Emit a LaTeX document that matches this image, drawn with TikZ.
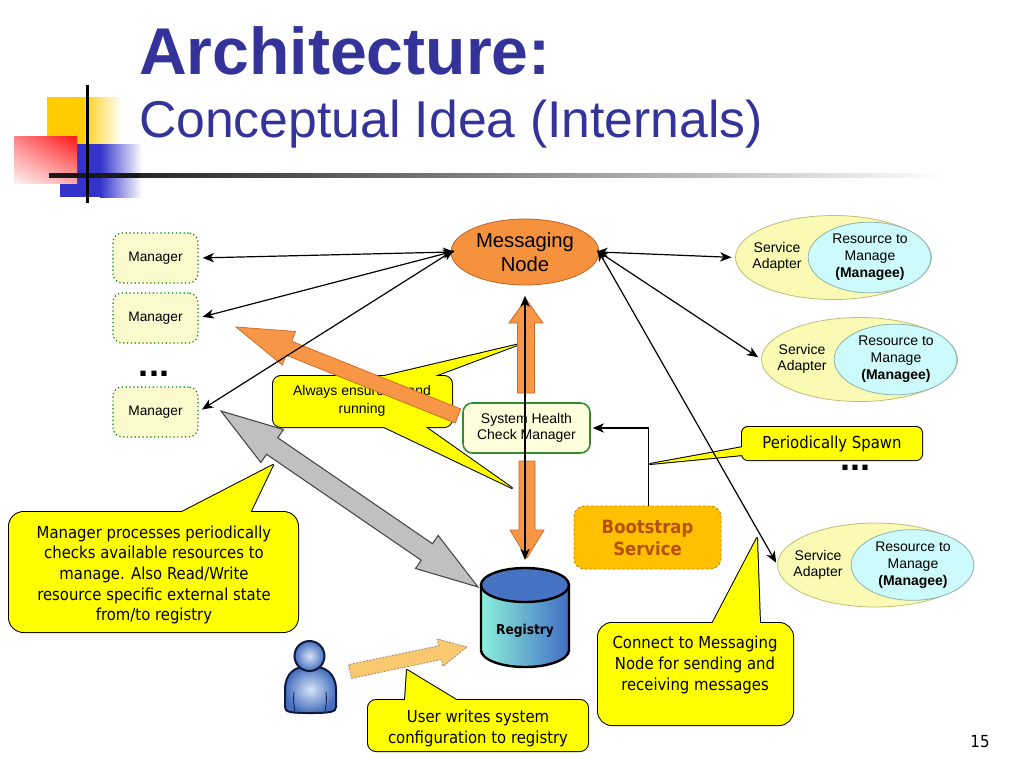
\documentclass[tikz,border=0pt]{standalone}
\usepackage{fontspec}
\setmainfont{Liberation Sans}
\newfontfamily\tah{DejaVu Sans Condensed}
\usetikzlibrary{arrows.meta,shapes.geometric,shadings}

\definecolor{titleblue}{RGB}{51,51,153}
\definecolor{decoyellow}{RGB}{255,204,0}
\definecolor{decoblue}{RGB}{51,51,204}
\definecolor{redA}{RGB}{255,20,20}
\definecolor{redB}{RGB}{255,130,135}
\definecolor{redC}{RGB}{255,240,240}
\definecolor{redD}{RGB}{255,170,170}
\definecolor{mgrfill}{RGB}{250,250,205}
\definecolor{mgrborder}{RGB}{0,128,0}
\definecolor{msgfill}{RGB}{246,146,62}
\definecolor{msgborder}{RGB}{190,100,40}
\definecolor{safill}{RGB}{250,250,180}
\definecolor{saborder}{RGB}{190,190,120}
\definecolor{resfill}{RGB}{205,250,250}
\definecolor{resborder}{RGB}{140,180,180}
\definecolor{shcmfill}{RGB}{255,255,220}
\definecolor{shcmborder}{RGB}{50,140,50}
\definecolor{bootfill}{RGB}{255,192,0}
\definecolor{bootborder}{RGB}{200,130,0}
\definecolor{boottext}{RGB}{180,80,10}
\definecolor{orfill}{RGB}{247,150,70}
\definecolor{orborder}{RGB}{205,110,40}
\definecolor{grfill}{RGB}{192,192,192}
\definecolor{grborder}{RGB}{70,70,70}
\definecolor{usfill}{RGB}{250,200,110}
\definecolor{usborder}{RGB}{160,140,110}
\definecolor{regtop}{RGB}{70,115,195}
\definecolor{regL}{RGB}{140,240,220}
\definecolor{regR}{RGB}{65,110,195}
\definecolor{perL}{RGB}{215,228,248}
\definecolor{perD}{RGB}{70,110,190}
\definecolor{perO}{RGB}{15,25,60}
\definecolor{callyellow}{RGB}{255,255,0}

\newcommand\zzdir[4]{%
  \pgfmathsetmacro\zzdx{(#3-(#1))/100}%
  \pgfmathsetmacro\zzdy{(#4-(#2))/100}%
  \pgfmathsetmacro\zzL{sqrt((\zzdx)*(\zzdx)+(\zzdy)*(\zzdy))}%
  \pgfmathsetmacro\zzux{(\zzdx)/(\zzL)}%
  \pgfmathsetmacro\zzuy{(\zzdy)/(\zzL)}%
  \pgfmathsetmacro\zznx{0-(\zzuy)}%
  \pgfmathsetmacro\zzny{\zzux}}

% block arrow: style, tail x,y, tip x,y, shaft width, head width, head length
\newcommand\blockarrow[8]{%
  \zzdir{#2}{#3}{#4}{#5}%
  \pgfmathsetmacro\zzhx{#4-(\zzux)*(#8)}%
  \pgfmathsetmacro\zzhy{#5-(\zzuy)*(#8)}%
  \draw[#1] ({#2+(\zznx)*(#6)/2},{#3+(\zzny)*(#6)/2})
    -- ({\zzhx+(\zznx)*(#6)/2},{\zzhy+(\zzny)*(#6)/2})
    -- ({\zzhx+(\zznx)*(#7)/2},{\zzhy+(\zzny)*(#7)/2})
    -- (#4,#5)
    -- ({\zzhx-(\zznx)*(#7)/2},{\zzhy-(\zzny)*(#7)/2})
    -- ({\zzhx-(\zznx)*(#6)/2},{\zzhy-(\zzny)*(#6)/2})
    -- ({#2-(\zznx)*(#6)/2},{#3-(\zzny)*(#6)/2}) -- cycle;}

% double block arrow: style, tip A x,y, tip B x,y, shaft, head width, head length
\newcommand\dblockarrow[8]{%
  \zzdir{#2}{#3}{#4}{#5}%
  \pgfmathsetmacro\zzax{#2+(\zzux)*(#8)}%
  \pgfmathsetmacro\zzay{#3+(\zzuy)*(#8)}%
  \pgfmathsetmacro\zzhx{#4-(\zzux)*(#8)}%
  \pgfmathsetmacro\zzhy{#5-(\zzuy)*(#8)}%
  \draw[#1] (#2,#3)
    -- ({\zzax+(\zznx)*(#7)/2},{\zzay+(\zzny)*(#7)/2})
    -- ({\zzax+(\zznx)*(#6)/2},{\zzay+(\zzny)*(#6)/2})
    -- ({\zzhx+(\zznx)*(#6)/2},{\zzhy+(\zzny)*(#6)/2})
    -- ({\zzhx+(\zznx)*(#7)/2},{\zzhy+(\zzny)*(#7)/2})
    -- (#4,#5)
    -- ({\zzhx-(\zznx)*(#7)/2},{\zzhy-(\zzny)*(#7)/2})
    -- ({\zzhx-(\zznx)*(#6)/2},{\zzhy-(\zzny)*(#6)/2})
    -- ({\zzax-(\zznx)*(#6)/2},{\zzay-(\zzny)*(#6)/2})
    -- ({\zzax-(\zznx)*(#7)/2},{\zzay-(\zzny)*(#7)/2}) -- cycle;}

% callout: radius, box, tails (closed polygons)
\newcommand\callout[3]{%
  \path[draw=black, line width=1.5pt, line join=round, rounded corners=#1] #2;
  \path[draw=black, line width=1.5pt, line join=round] #3;
  \fill[callyellow, rounded corners=#1] #2;
  \fill[callyellow] #3;}

\begin{document}
\begin{tikzpicture}[x=0.75pt,y=-0.75pt,
  every node/.style={inner sep=0pt, outer sep=0pt},
  mgr/.style={draw=mgrborder, dotted, line width=0.9pt, fill=mgrfill, rounded corners=7pt,
    minimum width=63.75pt, minimum height=37.5pt, font=\fontsize{10.3}{12}\selectfont},
  msgnode/.style={ellipse, draw=msgborder, line width=0.6pt, fill=msgfill, minimum width=111pt,
    minimum height=49.5pt, align=center, font=\fontsize{15.2}{18}\selectfont},
  saout/.style={ellipse, draw=saborder, line width=0.6pt, fill=safill, minimum width=147pt, minimum height=63pt},
  sain/.style={ellipse, draw=resborder, line width=0.6pt, fill=resfill, minimum width=92pt, minimum height=53pt},
  satext/.style={align=center, font=\fontsize{10.5}{12.5}\selectfont},
  shcm/.style={draw=shcmborder, line width=1.2pt, fill=shcmfill, rounded corners=7pt,
    minimum width=95.25pt, minimum height=37.5pt, align=center, font=\fontsize{10.5}{12.5}\selectfont},
  boot/.style={draw=bootborder, dash pattern=on 2pt off 1.5pt, line width=0.7pt, fill=bootfill, rounded corners=8pt,
    minimum width=110.25pt, minimum height=47.25pt, align=center, text=boottext,
    font=\tah\bfseries\fontsize{13.7}{16.5}\selectfont},
  ctext/.style={align=center, font=\tah\fontsize{12.4}{15.5}\selectfont},
  conn/.style={line width=0.9pt, {Stealth[length=8.5pt,width=7pt,inset=2.5pt]}-{Stealth[length=8.5pt,width=7pt,inset=2.5pt]}},
  orarrow/.style={fill=orfill, draw=orborder, line width=0.6pt, line join=miter},
  grarrow/.style={fill=grfill, draw=grborder, line width=0.8pt},
  usarrow/.style={fill=usfill, draw=usborder, dash pattern=on 1.5pt off 1pt, line width=0.6pt},
  dots/.style={anchor=base, text height=4pt, text depth=0pt, font=\bfseries\fontsize{27}{27}\selectfont}
]
\useasboundingbox (0,0) rectangle (1024,768);

% ---------- decoration ----------
\fill[decoyellow] (47,97) rectangle (80,144);
\shade[left color=decoyellow, right color=white] (80,97) rectangle (122,144);
\fill[decoblue] (60,144) rectangle (100,197);
\shade[left color=decoblue, right color=white] (100,144) rectangle (142,197);
\shade[upper right=redA, upper left=redB, lower left=redC, lower right=redD] (14,136) rectangle (77,183);
\fill[black!90] (49,173) rectangle (140,177.5);
\shade[left color=black!85, right color=white] (140,173) rectangle (945,177.5);
\fill[black] (85.5,85) rectangle (88.5,203);

% ---------- title ----------
\node[anchor=base west, text=titleblue, font=\bfseries\fontsize{49.6}{58}\selectfont] (title) at (139,74) {Architecture:};
\node[anchor=base west, text=titleblue, font=\fontsize{38.8}{46}\selectfont] (subtitle) at (139,137) {Conceptual Idea (Internals)};

% ---------- callouts ----------
\callout{6pt}{(273,376) rectangle (452,427)}{(380,377) -- (520,344) -- (432,377) -- cycle (382,426) -- (512,488) -- (424,426) -- cycle}
\node[align=center, font=\fontsize{10.5}{13}\selectfont] (alw) at (362,401) {Always ensure up and\\running};

\callout{11pt}{(9,512) rectangle (298,632)}{(180,513) -- (273,465) -- (250,513) -- cycle}
\node[ctext] (mpt) at (154,575) {Manager processes periodically\\checks available resources to\\manage. Also Read/Write\\resource specific external state\\from/to registry};

\callout{6pt}{(368,700) rectangle (588,751)}{(405,701) -- (407,670) -- (458,701) -- cycle}
\node[ctext] (uwt) at (478,728.5) {User writes system\\configuration to registry};

\callout{10.5pt}{(598,623) rectangle (793,725)}{(712,624) -- (757,538) -- (760,624) -- cycle}
\node[ctext] (cnt) at (695,665) {Connect to Messaging\\Node for sending and\\receiving messages};

\callout{4.5pt}{(742,427) rectangle (922,460)}{(743,447) -- (650,464) -- (743,455) -- cycle}
\node[ctext] (pst) at (832,444) {Periodically Spawn};

% ---------- block arrows ----------
\blockarrow{orarrow}{458}{416}{236}{327}{15}{36}{57}
\blockarrow{orarrow}{526}{393}{526}{299}{17}{34}{24}
\blockarrow{orarrow}{527}{461}{527}{558}{16}{34}{28}
\dblockarrow{grarrow}{221}{411}{478}{587}{20}{40}{62}
\blockarrow{usarrow}{350}{671.5}{467}{647}{14}{28}{27.5}

% ---------- nodes ----------
\node[mgr] (m1) at (155.5,258) {Manager};
\node[mgr] (m2) at (155.5,318) {Manager};
\node[mgr] (m3) at (155.5,412) {Manager};
\node[dots] (d1) at (154,376) {...};
\node[dots] (d2) at (855,470) {...};

\node[msgnode] (msg) at (525,252) {Messaging\\Node};

\node[saout] (sa1) at (833.5,257.5) {};
\node[sain] (r1) at (869.5,257.5) {};
\node[satext] (s1) at (777,257) {Service\\Adapter};
\node[satext] (rt1) at (870,257) {Resource to\\Manage\\\textbf{(Managee)}};

\node[saout] (sa2) at (859.5,359.5) {};
\node[sain] (r2) at (895.5,359.5) {};
\node[satext] (s2) at (802,359) {Service\\Adapter};
\node[satext] (rt2) at (896,359) {Resource to\\Manage\\\textbf{(Managee)}};

\node[saout] (sa3) at (875.5,565) {};
\node[sain] (r3) at (912.5,565) {};
\node[satext] (s3) at (818,565) {Service\\Adapter};
\node[satext] (rt3) at (913,565) {Resource to\\Manage\\\textbf{(Managee)}};

\node[shcm] (shcm) at (526.5,428) {System Health\\Check Manager};
\node[boot] (bs) at (647.5,537.5) {Bootstrap\\Service};

% registry cylinder
\shade[left color=regL, right color=regR, draw=black, line width=1.8pt]
  (481,585) -- (481,650) arc[start angle=180, end angle=0, x radius=44, y radius=17] -- (569,585) -- cycle;
\filldraw[fill=regtop, draw=black, line width=1.8pt] (525,585) ellipse [x radius=44, y radius=17];
\coordinate (regtop) at (525,568);
\node[font=\tah\bfseries\fontsize{10.2}{12}\selectfont] (reg) at (525,631) {Registry};

% person
\shade[inner color=perL, outer color=perD, draw=perO, line width=1.5pt]
  (285,707) -- (285,690) .. controls (285,673) and (295,666) .. (310,666)
  .. controls (325,666) and (336,673) .. (336,690) -- (336,707)
  .. controls (336,712) and (330,713) .. (310,713) .. controls (290,713) and (285,712) .. (285,707) -- cycle;
\draw[perO, line width=0.6pt] (294,692) .. controls (293,700) and (294,706) .. (295,711);
\draw[perO, line width=0.6pt] (326,692) .. controls (327,700) and (326,706) .. (325,711);
\shade[inner color=perL, outer color=perD, draw=perO, line width=1.5pt] (309.5,656) circle [radius=15];
\coordinate (user) at (310,690);

% ---------- thin connectors ----------
\draw[conn, shorten <=-2.5pt, shorten >=3.5pt] (msg.west) -- (m1.east);
\draw[conn, shorten <=-2.5pt, shorten >=3.5pt] (msg.west) -- (m2.east);
\draw[conn, shorten <=-2.5pt, shorten >=3.5pt] (msg.west) -- (m3.east);
\draw[conn, shorten <=-2pt, shorten >=3pt] (msg.east) -- (sa1.west);
\draw[conn, shorten <=-2pt, shorten >=3pt] (msg.east) -- (sa2.west);
\draw[conn, shorten <=-2pt, shorten >=2pt] (msg.east) -- (sa3.west);
\draw[conn, shorten <=8pt, shorten >=6pt] (msg.south) -- (regtop);
\draw[line width=0.9pt, -{Stealth[length=8.5pt,width=7pt,inset=2.5pt]}, shorten >=2pt] ([xshift=1pt]bs.north) |- (shcm.east);

% page number
\node[font=\tah\fontsize{12.5}{14}\selectfont] (pg) at (980,742) {15};
\end{tikzpicture}
\end{document}
